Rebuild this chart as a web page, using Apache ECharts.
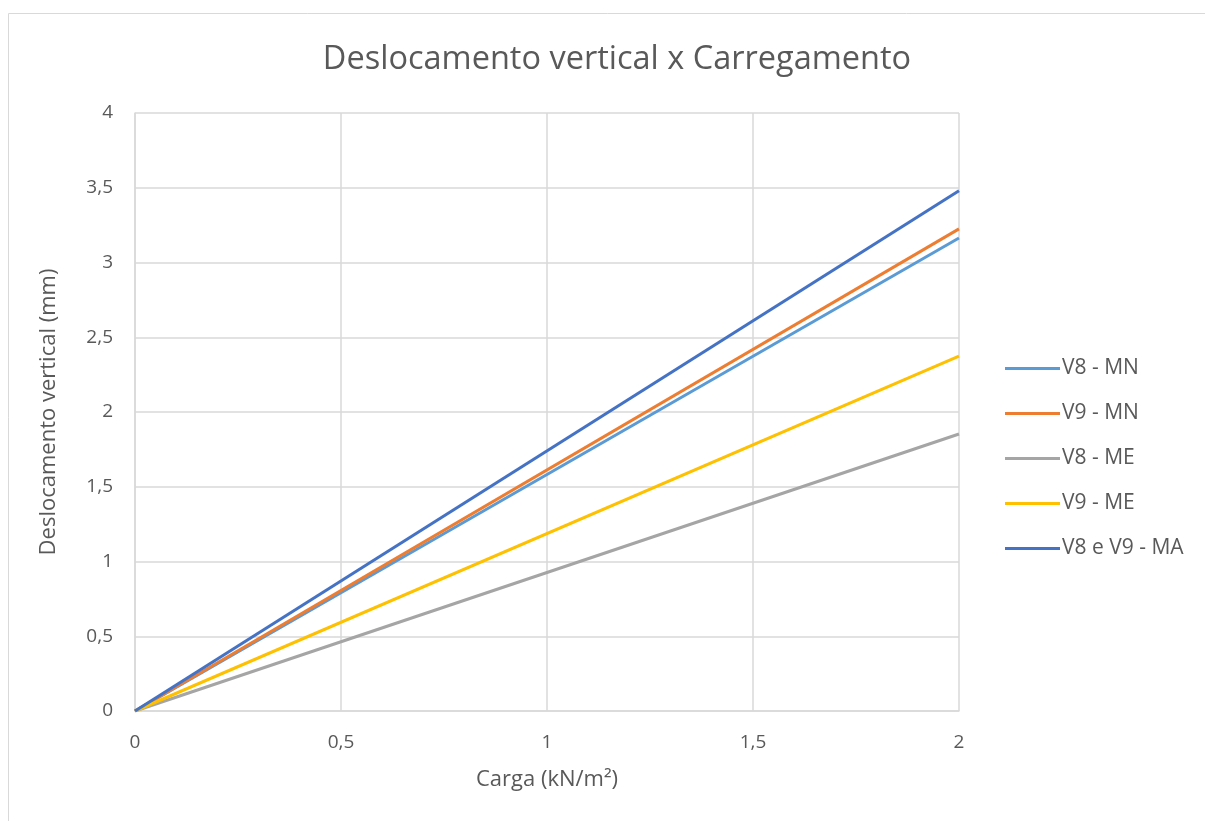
<!DOCTYPE html>
<html>
<head>
<meta charset="utf-8">
<script src="https://cdn.jsdelivr.net/npm/echarts@6/dist/echarts.min.js"></script>
<style>html,body{margin:0;padding:0;background:#fff}#c{width:1205px;height:821px}</style>
</head>
<body>
<div id="c"></div>
<script>
var cargas = [0, 2];
var v8MN = [0, 3.164];
var v9MN = [0, 3.225];
var v8ME = [0, 1.853];
var v9ME = [0, 2.374];
var maV8V9 = [0, 3.48];
var seriesNames = ['V8 - MN', 'V9 - MN', 'V8 - ME', 'V9 - ME', 'V8 e V9 - MA'];
var seriesValues = [v8MN, v9MN, v8ME, v9ME, maV8V9];
var colors = ['#5B9BD5', '#ED7D31', '#A5A5A5', '#FFC000', '#4472C4'];

function pairs(vals){ return cargas.map(function(x,i){return [x, vals[i]];}); }
function fmt(v){ return String(v).replace('.', ','); }
var font = '"Open Sans", "Liberation Sans", sans-serif';
var chart = echarts.init(document.getElementById('c'));
chart.setOption({
  animation: false,
  color: colors,
  graphic: [{type:'rect', shape:{x:8.5,y:13.5,width:1205,height:820}, style:{fill:'none', stroke:'#d9d9d9', lineWidth:1}, silent:true}],
  title: {text:'Deslocamento vertical x Carregamento', left:612, top:38, textAlign:'center',
    textStyle:{fontFamily:font, fontSize:32.5, fontWeight:'normal', color:'#595959'}},
  legend: {orient:'vertical', left:1000, top:353, itemGap:24, itemWidth:55, itemHeight:3,
    icon:'rect', data: seriesNames,
    textStyle:{fontFamily:font, fontSize:21, color:'#595959', padding:[0,0,0,-3]}},
  grid: {left:135, right:246, top:113, bottom:110, containLabel:false},
  xAxis: {type:'value', min:0, max:2, interval:0.5,
    name:'Carga (kN/m²)', nameLocation:'middle', nameGap:58,
    nameTextStyle:{fontFamily:font, fontSize:22, color:'#595959'},
    axisLine:{show:true, lineStyle:{color:'#d9d9d9', width:1.5}}, axisTick:{show:false},
    axisLabel:{fontFamily:font, fontSize:19, color:'#595959', margin:22, formatter:fmt},
    splitLine:{show:true, lineStyle:{color:'#d9d9d9', width:1.5}}},
  yAxis: {type:'value', min:0, max:4, interval:0.5,
    name:'Deslocamento vertical (mm)', nameLocation:'middle', nameGap:75,
    nameTextStyle:{fontFamily:font, fontSize:22, color:'#595959'},
    axisLine:{show:true, lineStyle:{color:'#d9d9d9', width:1.5}}, axisTick:{show:false},
    axisLabel:{fontFamily:font, fontSize:19, color:'#595959', margin:22, formatter:fmt},
    splitLine:{show:true, lineStyle:{color:'#d9d9d9', width:1.5}}},
  series: seriesNames.map(function(n,i){
    return {name:n, type:'line', data:pairs(seriesValues[i]), showSymbol:false, symbol:'none',
      lineStyle:{width:3, color:colors[i]}, itemStyle:{color:colors[i]}};
  })
});
</script>
</body>
</html>
